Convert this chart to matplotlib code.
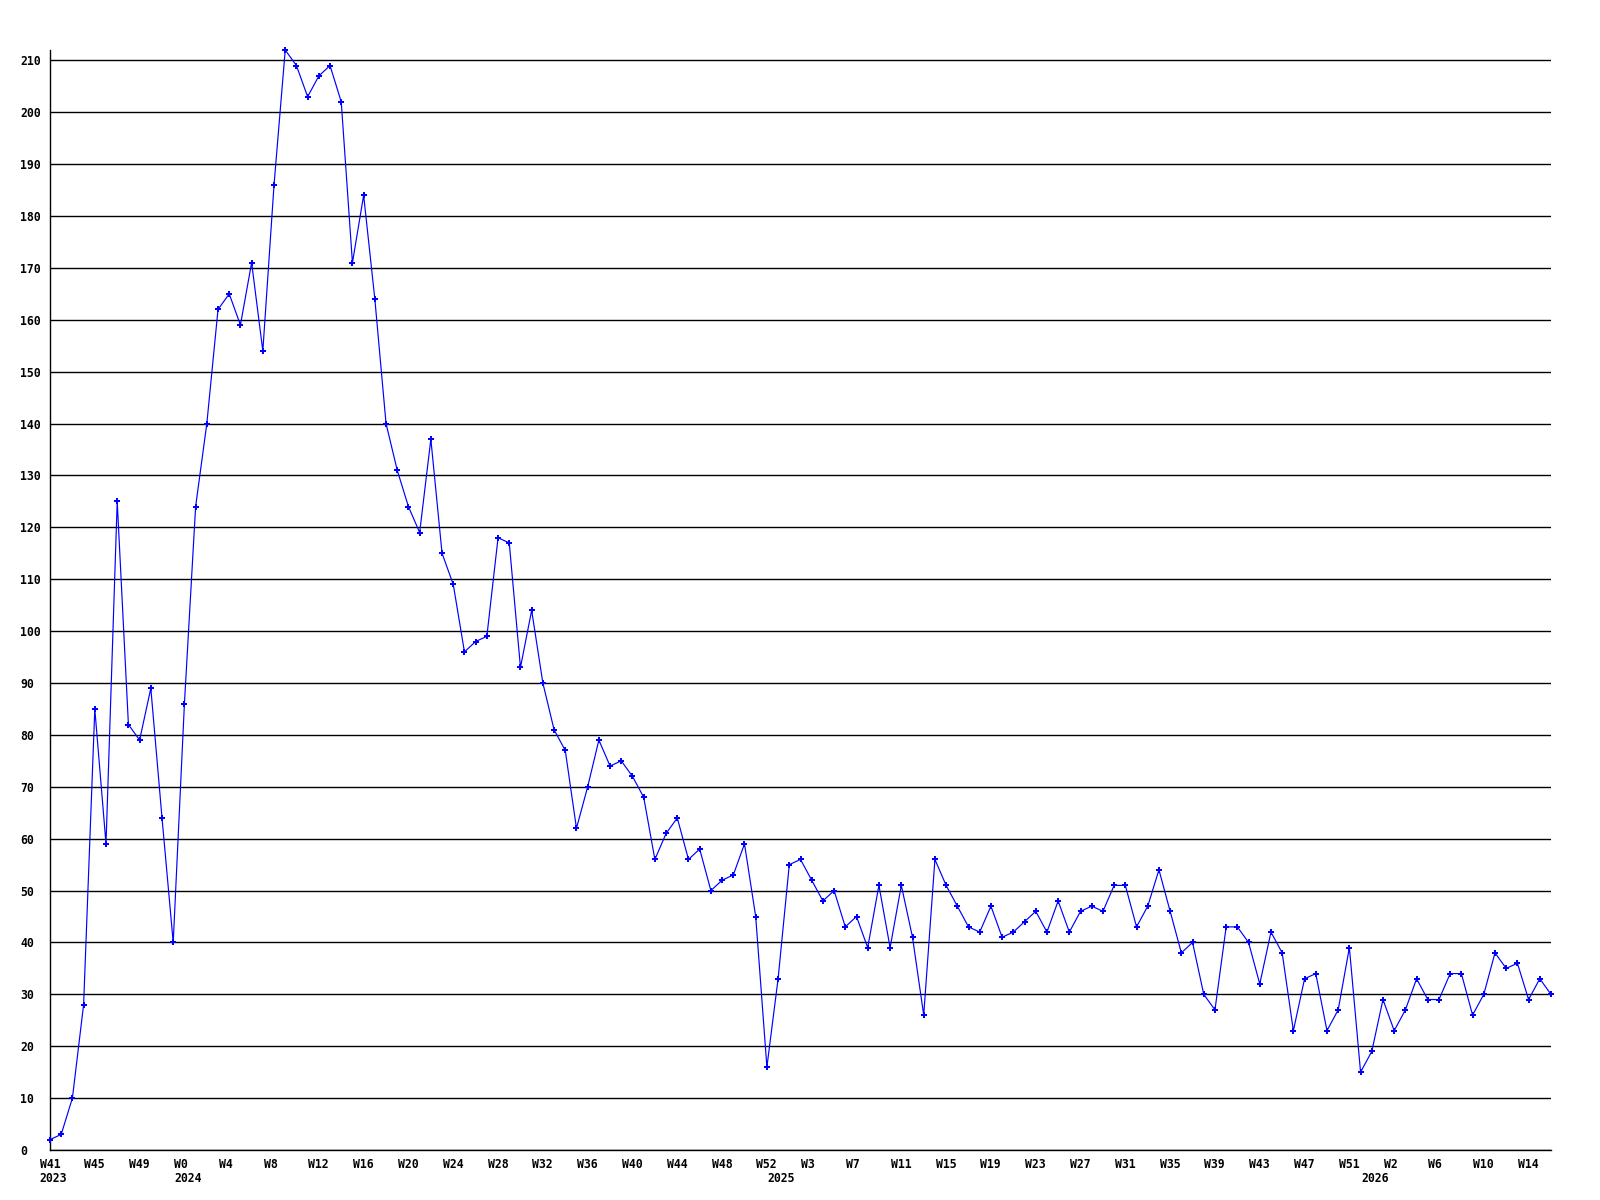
import matplotlib
matplotlib.use("Agg")
import matplotlib.pyplot as plt
import matplotlib.transforms as mtransforms

# weekly counts, W41 2023 .. W16 2026
values = [2, 3, 10, 28, 85, 59, 125, 82, 79, 89, 64, 40,
          86, 124, 140, 162, 165, 159, 171, 154, 186, 212, 209, 203,
          207, 209, 202, 171, 184, 164, 140, 131, 124, 119, 137, 115,
          109, 96, 98, 99, 118, 117, 93, 104, 90, 81, 77, 62,
          70, 79, 74, 75, 72, 68, 56, 61, 64, 56, 58, 50,
          52, 53, 59, 45, 16,
          33, 55, 56, 52, 48, 50, 43, 45, 39, 51, 39, 51,
          41, 26, 56, 51, 47, 43, 42, 47, 41, 42, 44, 46,
          42, 48, 42, 46, 47, 46, 51, 51, 43, 47, 54, 46,
          38, 40, 30, 27, 43, 43, 40, 32, 42, 38, 23, 33,
          34, 23, 27, 39, 15,
          19, 29, 23, 27, 33, 29, 29, 34, 34, 26, 30, 38,
          35, 36, 29, 33, 30]

week_ticks = ["W41", "W45", "W49", "W0", "W4", "W8", "W12", "W16", "W20",
              "W24", "W28", "W32", "W36", "W40", "W44", "W48", "W52", "W3",
              "W7", "W11", "W15", "W19", "W23", "W27", "W31", "W35", "W39",
              "W43", "W47", "W51", "W2", "W6", "W10", "W14"]
year_labels = ["2023", "2024", "2025", "2026"]
year_start_index = [0, 12, 65, 118]
y_ticks = list(range(0, 211, 10))

FONT = dict(family="DejaVu Sans Mono", weight="bold", size=8.3)

fig = plt.figure(figsize=(16, 12), dpi=100)
ax = fig.add_axes([50 / 1600, 50 / 1200, 1501 / 1600, 1100 / 1200])

x = list(range(len(values)))
ax.plot(x, values, color="#0000ff", lw=0.85, marker="P", markersize=4.8,
        markeredgewidth=0, zorder=3, clip_on=False)

ax.set_xlim(0, len(values) - 1)
ax.set_ylim(0, 212)

for s in ["top", "right"]:
    ax.spines[s].set_visible(False)
for s in ["left", "bottom"]:
    ax.spines[s].set_color("black")
    ax.spines[s].set_linewidth(1.0)

ax.set_yticks(y_ticks)
ax.set_yticklabels([str(v) for v in y_ticks])
ax.tick_params(axis="y", length=0, pad=21.6)
for lbl in ax.get_yticklabels():
    lbl.set_horizontalalignment("left")
    lbl.set_fontfamily(FONT["family"])
    lbl.set_fontweight(FONT["weight"])
    lbl.set_fontsize(FONT["size"])
ax.yaxis.grid(True, color="black", lw=1.0)
ax.set_axisbelow(True)

ax.set_xticks([])
base = mtransforms.blended_transform_factory(ax.transData, ax.transAxes)
off_w = mtransforms.ScaledTranslation(-10.5 / 100, -8 / 100, fig.dpi_scale_trans)
off_y = mtransforms.ScaledTranslation(-10.5 / 100, -22 / 100, fig.dpi_scale_trans)
for i, lab in enumerate(week_ticks):
    ax.text(i * 4, 0, lab, transform=base + off_w, ha="left", va="top", **FONT)
for idx, lab in zip(year_start_index, year_labels):
    ax.text(idx, 0, lab, transform=base + off_y, ha="left", va="top", **FONT)

fig.savefig("out.png", dpi=100, facecolor="white")
